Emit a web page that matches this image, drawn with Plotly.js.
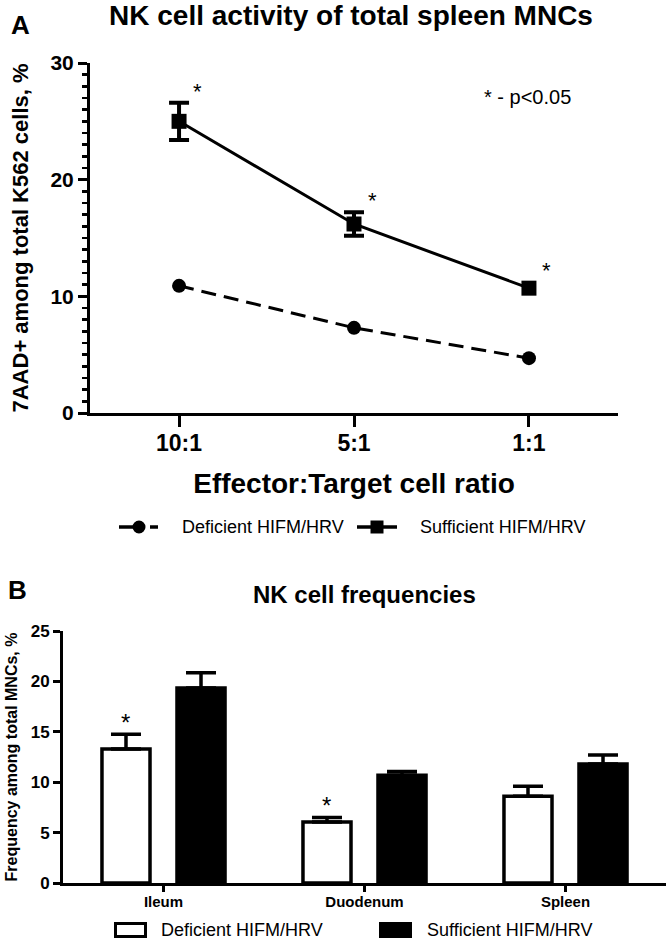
<!DOCTYPE html>
<html><head><meta charset="utf-8">
<script src="https://cdn.plot.ly/plotly-3.0.1.min.js"></script>
<style>html,body{margin:0;padding:0;background:#fff}#chart{width:666px;height:939px}</style>
</head><body><div id="chart"></div>
<script>
// ---- Panel A data ----
const ratios = ['10:1', '5:1', '1:1'];
const deficientActivity = [10.9, 7.3, 4.7];
const sufficientActivity = [25.0, 16.2, 10.7];
const sufficientActivityErr = [1.6, 1.0, undefined];   // 1:1 error hidden behind the marker
const activitySignificant = [true, true, true];

// ---- Panel B data ----
const tissues = ['Ileum', 'Duodenum', 'Spleen'];
const deficientFreq = [13.3, 6.05, 8.6];
const deficientFreqErr = [1.45, 0.45, 1.0];
const sufficientFreq = [19.35, 10.7, 11.8];
const sufficientFreqErr = [1.5, 0.35, 0.9];
const freqSignificant = [true, true, false];

const seriesNames = ['Deficient HIFM/HRV', 'Sufficient HIFM/HRV'];

// ---- helpers (pixel -> paper) ----
const W = 666, H = 939;
const px = x => x / W;
const py = y => 1 - y / H;
const FONT = 'Liberation Sans, Arial, Helvetica, sans-serif';

const barW = 0.239, barC = 0.1866;

const traces = [
  {
    x: ratios, y: deficientActivity, name: seriesNames[0], type: 'scatter', mode: 'lines+markers',
    xaxis: 'x', yaxis: 'y',
    line: {color: 'black', width: 3, dash: '15px,8px'},
    marker: {symbol: 'circle', size: 14, color: 'black'}
  },
  {
    x: ratios, y: sufficientActivity, name: seriesNames[1], type: 'scatter', mode: 'lines+markers',
    xaxis: 'x', yaxis: 'y',
    line: {color: 'black', width: 3},
    marker: {symbol: 'square', size: 15, color: 'black'},
    error_y: {type: 'data', array: sufficientActivityErr, color: 'black', thickness: 4, width: 10}
  },
  {
    x: tissues, y: deficientFreq, name: seriesNames[0], type: 'bar',
    xaxis: 'x2', yaxis: 'y2', width: barW, offset: -barC - barW / 2,
    marker: {color: 'white', line: {color: 'black', width: 3.5}},
    error_y: {type: 'data', symmetric: false, array: deficientFreqErr, arrayminus: deficientFreq.map(() => 0),
              color: 'black', thickness: 3.5, width: 15}
  },
  {
    x: tissues, y: sufficientFreq, name: seriesNames[1], type: 'bar',
    xaxis: 'x2', yaxis: 'y2', width: barW, offset: barC - barW / 2,
    marker: {color: 'black', line: {color: 'black', width: 3.5}},
    error_y: {type: 'data', symmetric: false, array: sufficientFreqErr, arrayminus: sufficientFreq.map(() => 0),
              color: 'black', thickness: 3.5, width: 15}
  }
];

const annotations = [
  {xref: 'paper', yref: 'paper', x: px(20), y: py(25), text: 'A', showarrow: false,
   font: {size: 26, weight: 'bold'}, xanchor: 'center', yanchor: 'middle'},
  {xref: 'paper', yref: 'paper', x: px(17), y: py(590), text: 'B', showarrow: false,
   font: {size: 26, weight: 'bold'}, xanchor: 'center', yanchor: 'middle'},
  {xref: 'paper', yref: 'paper', x: px(364), y: py(594), text: 'NK cell frequencies', showarrow: false,
   font: {size: 24, weight: 'bold'}, xanchor: 'center', yanchor: 'middle'},
  {xref: 'paper', yref: 'paper', x: px(527), y: py(97), text: '* - p<0.05', showarrow: false,
   font: {size: 20}, xanchor: 'center', yanchor: 'middle'},
  // legends (text)
  {xref: 'paper', yref: 'paper', x: px(180), y: py(527), text: seriesNames[0], showarrow: false,
   font: {size: 18}, xanchor: 'left', yanchor: 'middle'},
  {xref: 'paper', yref: 'paper', x: px(418), y: py(527), text: seriesNames[1], showarrow: false,
   font: {size: 18}, xanchor: 'left', yanchor: 'middle'},
  {xref: 'paper', yref: 'paper', x: px(159), y: py(930), text: seriesNames[0], showarrow: false,
   font: {size: 18}, xanchor: 'left', yanchor: 'middle'},
  {xref: 'paper', yref: 'paper', x: px(425), y: py(930), text: seriesNames[1], showarrow: false,
   font: {size: 18}, xanchor: 'left', yanchor: 'middle'}
];

ratios.forEach((r, i) => {
  const err = sufficientActivityErr[i] || 0;
  if (activitySignificant[i]) annotations.push({
    xref: 'x', yref: 'y', x: i, y: sufficientActivity[i] + err,
    text: '*', showarrow: false, font: {size: 22}, xanchor: 'center', yanchor: 'bottom',
    xshift: 18, yshift: err > 0 ? -3 : 3
  });
});
tissues.forEach((t, i) => {
  if (freqSignificant[i]) annotations.push({
    xref: 'x2', yref: 'y2', x: i - barC, y: deficientFreq[i] + deficientFreqErr[i],
    text: '*', showarrow: false, font: {size: 24}, xanchor: 'center', yanchor: 'bottom',
    yshift: -4
  });
});

const shapes = [
  // Panel A legend symbols
  {type: 'line', xref: 'paper', yref: 'paper', x0: px(119), x1: px(140), y0: py(527), y1: py(527), line: {color: 'black', width: 3.5}},
  {type: 'line', xref: 'paper', yref: 'paper', x0: px(150), x1: px(158), y0: py(527), y1: py(527), line: {color: 'black', width: 3.5}},
  {type: 'circle', xref: 'paper', yref: 'paper', x0: px(132.5), x1: px(145.5), y0: py(520.5), y1: py(533.5), fillcolor: 'black', line: {color: 'black', width: 0}},
  {type: 'line', xref: 'paper', yref: 'paper', x0: px(357), x1: px(397), y0: py(527), y1: py(527), line: {color: 'black', width: 3.5}},
  {type: 'rect', xref: 'paper', yref: 'paper', x0: px(370.5), x1: px(383.5), y0: py(520.5), y1: py(533.5), fillcolor: 'black', line: {color: 'black', width: 0}},
  // Panel B legend symbols
  {type: 'rect', xref: 'paper', yref: 'paper', x0: px(115.5), x1: px(145.5), y0: py(923.5), y1: py(936.5), fillcolor: 'white', line: {color: 'black', width: 3}},
  {type: 'rect', xref: 'paper', yref: 'paper', x0: px(379), x1: px(412), y0: py(922), y1: py(938), fillcolor: 'black', line: {color: 'black', width: 0}}
];

const axisCommon = {
  showline: true, linewidth: 3, linecolor: 'black', ticks: 'outside', tickcolor: 'black',
  showgrid: false, zeroline: false, fixedrange: true
};

const layout = {
  width: W, height: H, margin: {l: 0, r: 0, t: 0, b: 0},
  paper_bgcolor: 'white', plot_bgcolor: 'white', showlegend: false,
  font: {family: FONT, color: 'black'},
  title: {text: 'NK cell activity of total spleen MNCs', x: px(351), xanchor: 'center',
          y: py(15), yanchor: 'middle', font: {size: 28, weight: 'bold'}},
  xaxis: Object.assign({}, axisCommon, {
    domain: [px(90), px(618)], range: [-0.509, 2.509], type: 'category', anchor: 'y',
    ticklen: 11, tickwidth: 3, tickfont: {size: 23, weight: 'bold'}, ticklabelstandoff: -4,
    title: {text: 'Effector:Target cell ratio', font: {size: 28, weight: 'bold'}, standoff: 19}
  }),
  yaxis: Object.assign({}, axisCommon, {
    domain: [py(413), py(63)], range: [0, 30], tick0: 0, dtick: 10, anchor: 'x',
    ticklen: 9, tickwidth: 3, tickfont: {size: 21, weight: 'bold'},
    minor: {dtick: 1, ticks: 'outside', ticklen: 5, tickwidth: 2.5, tickcolor: 'black', showgrid: false},
    title: {text: '7AAD+ among total K562 cells, %', font: {size: 22, weight: 'bold'}, standoff: 16}
  }),
  xaxis2: Object.assign({}, axisCommon, {
    domain: [px(63), 1], range: [-0.5, 2.5], type: 'category', anchor: 'y2',
    ticklen: 6, tickwidth: 3, tickfont: {size: 15, weight: 'bold'}, ticklabelstandoff: -3
  }),
  yaxis2: Object.assign({}, axisCommon, {
    domain: [py(883), py(631)], range: [0, 25], tick0: 0, dtick: 5, anchor: 'x2',
    ticklen: 7, tickwidth: 3, tickfont: {size: 17, weight: 'bold'},
    title: {text: 'Frequency among total MNCs, %', font: {size: 16, weight: 'bold'}, standoff: 10}
  }),
  barmode: 'group',
  annotations: annotations,
  shapes: shapes
};

Plotly.newPlot('chart', traces, layout, {staticPlot: true, displayModeBar: false});
</script>
</body></html>
